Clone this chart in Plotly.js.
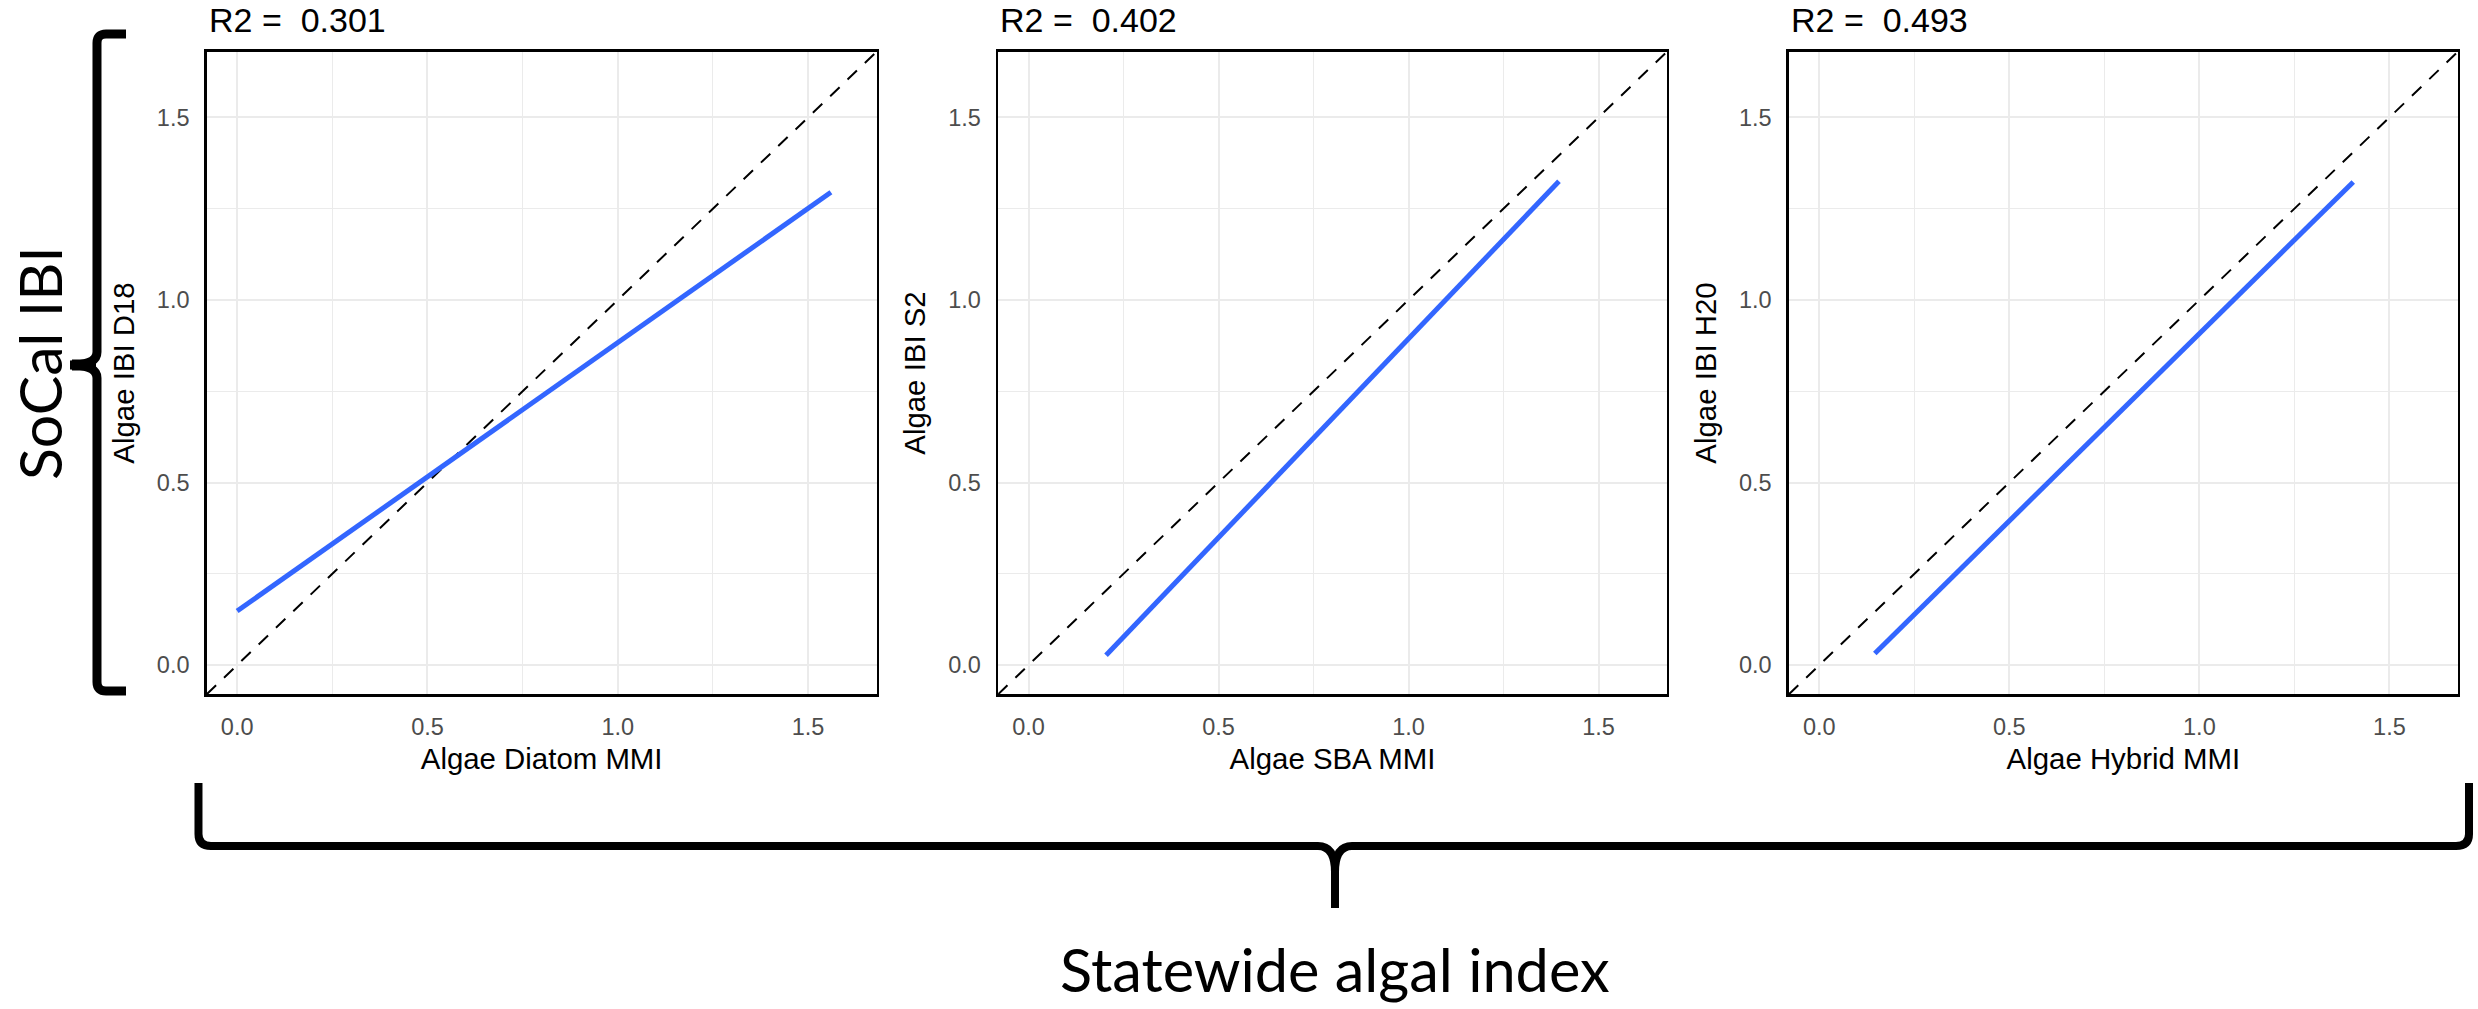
<!DOCTYPE html>
<html>
<head>
<meta charset="utf-8">
<script src="https://cdn.plot.ly/plotly-3.0.1.min.js"></script>
<style>html,body{margin:0;padding:0;background:#fff;}</style>
</head>
<body>
<div id="chart" style="width:2478px;height:1009px;"></div>
<script>
// ---- data ----
const r2Values = ["0.301", "0.402", "0.493"];
const xAxisLabels = ["Algae Diatom MMI", "Algae SBA MMI", "Algae Hybrid MMI"];
const yAxisLabels = ["Algae IBI D18", "Algae IBI S2", "Algae IBI H20"];
const axisRange = [-0.08, 1.68];           // shared axis limits (1:1 line spans them)
const fitX_D18 = [0.0, 1.56];
const fitY_D18 = [0.148, 1.295];
const fitX_S2 = [0.204, 1.396];
const fitY_S2 = [0.027, 1.325];
const fitX_H20 = [0.146, 1.405];
const fitY_H20 = [0.032, 1.323];
const rowLabel = "SoCal IBI";
const colLabel = "Statewide algal index";

const fitsX = [fitX_D18, fitX_S2, fitX_H20];
const fitsY = [fitY_D18, fitY_S2, fitY_H20];

// ---- layout geometry ----
const W = 2478, H = 1009;
const panelPx = [[206.7, 876.6], [998.1, 1666.9], [1788.9, 2457.8]];
const panelTop = 51.7, panelBottom = 694.3;
const px = x => x / W;
const py = y => 1 - y / H;
const pt = (x, y) => px(x).toFixed(5) + ',' + py(y).toFixed(5);

const sans = '"Liberation Sans", Arial, sans-serif';
const traces = [];
const layout = {
  width: W, height: H,
  margin: {l: 0, r: 0, t: 0, b: 0, pad: 0},
  paper_bgcolor: '#ffffff',
  plot_bgcolor: '#ffffff',
  showlegend: false,
  font: {family: sans, color: '#000000'},
  annotations: [],
  shapes: []
};

for (let i = 0; i < 3; i++) {
  const s = i === 0 ? '' : String(i + 1);
  const xa = 'x' + s, ya = 'y' + s;
  traces.push({
    x: axisRange, y: axisRange, xaxis: xa, yaxis: ya,
    mode: 'lines', hoverinfo: 'skip',
    line: {color: '#000000', width: 2, dash: '13px,11px'}
  });
  traces.push({
    x: fitsX[i], y: fitsY[i], xaxis: xa, yaxis: ya,
    mode: 'lines',
    line: {color: '#3366FF', width: 5}
  });
  const common = {
    range: axisRange, dtick: 0.5, tick0: 0, tickformat: '.1f',
    showline: true, mirror: true, linecolor: '#000000', linewidth: 2.5,
    showgrid: true, gridcolor: '#ebebeb', gridwidth: 2,
    zeroline: false, ticks: '',
    tickfont: {family: sans, size: 23.5, color: '#4d4d4d'},
    minor: {dtick: 0.25, tick0: 0, showgrid: true, gridcolor: '#ebebeb', gridwidth: 1, ticks: ''},
    automargin: true, fixedrange: true
  };
  layout['xaxis' + s] = Object.assign({}, common, {
    domain: [px(panelPx[i][0]), px(panelPx[i][1])],
    anchor: ya,
    ticklabelstandoff: 10,
    title: {text: xAxisLabels[i], font: {family: sans, size: 29.4, color: '#000000'}, standoff: 10}
  });
  layout['yaxis' + s] = Object.assign({}, common, {
    domain: [py(panelBottom), py(panelTop)],
    anchor: xa,
    ticklabelstandoff: 10,
    title: {text: yAxisLabels[i], font: {family: sans, size: 29.4, color: '#000000'}, standoff: 14}
  });
  layout.annotations.push({
    xref: 'paper', yref: 'paper', x: px(panelPx[i][0]), y: py(41),
    xanchor: 'left', yanchor: 'bottom', showarrow: false,
    text: 'R2 =\u00A0 ' + r2Values[i],
    font: {family: sans, size: 34, color: '#000000'}
  });
}

// row / column group labels
layout.annotations.push({
  xref: 'paper', yref: 'paper', x: px(39), y: py(363),
  xanchor: 'center', yanchor: 'middle', showarrow: false, textangle: -90,
  text: rowLabel, font: {family: 'Lato, "Noto Sans", sans-serif', size: 59, color: '#000000'}
});
layout.annotations.push({
  xref: 'paper', yref: 'paper', x: px(1334.5), y: py(969),
  xanchor: 'center', yanchor: 'middle', showarrow: false,
  text: colLabel, font: {family: 'Lato, "Noto Sans", sans-serif', size: 59.5, color: '#000000'}
});

// braces
const leftBrace = 'M' + pt(126, 34) + ' L' + pt(106, 34) + ' Q' + pt(97, 34) + ' ' + pt(97, 43) +
  ' L' + pt(97, 352) + ' Q' + pt(97, 365) + ' ' + pt(70, 365) +
  ' Q' + pt(97, 365) + ' ' + pt(97, 378) + ' L' + pt(97, 682) +
  ' Q' + pt(97, 691) + ' ' + pt(106, 691) + ' L' + pt(126, 691);
const bottomBrace = 'M' + pt(198.5, 783) + ' L' + pt(198.5, 834) + ' Q' + pt(198.5, 846) + ' ' + pt(211, 846) +
  ' L' + pt(1318, 846) + ' Q' + pt(1335, 846) + ' ' + pt(1335, 872) + ' L' + pt(1335, 908) +
  ' M' + pt(1335, 872) + ' Q' + pt(1335, 846) + ' ' + pt(1352, 846) +
  ' L' + pt(2456, 846) + ' Q' + pt(2469, 846) + ' ' + pt(2469, 834) + ' L' + pt(2469, 783);
layout.shapes.push({type: 'path', xref: 'paper', yref: 'paper', path: leftBrace,
  line: {color: '#000000', width: 9}});
layout.shapes.push({type: 'path', xref: 'paper', yref: 'paper', path: bottomBrace,
  line: {color: '#000000', width: 8}});
layout.shapes.push({type: 'line', xref: 'paper', yref: 'paper',
  x0: px(72), y0: py(365), x1: px(96), y1: py(365), line: {color: '#000000', width: 11}});

Plotly.newPlot('chart', traces, layout, {staticPlot: true, displayModeBar: false});
</script>
</body>
</html>
